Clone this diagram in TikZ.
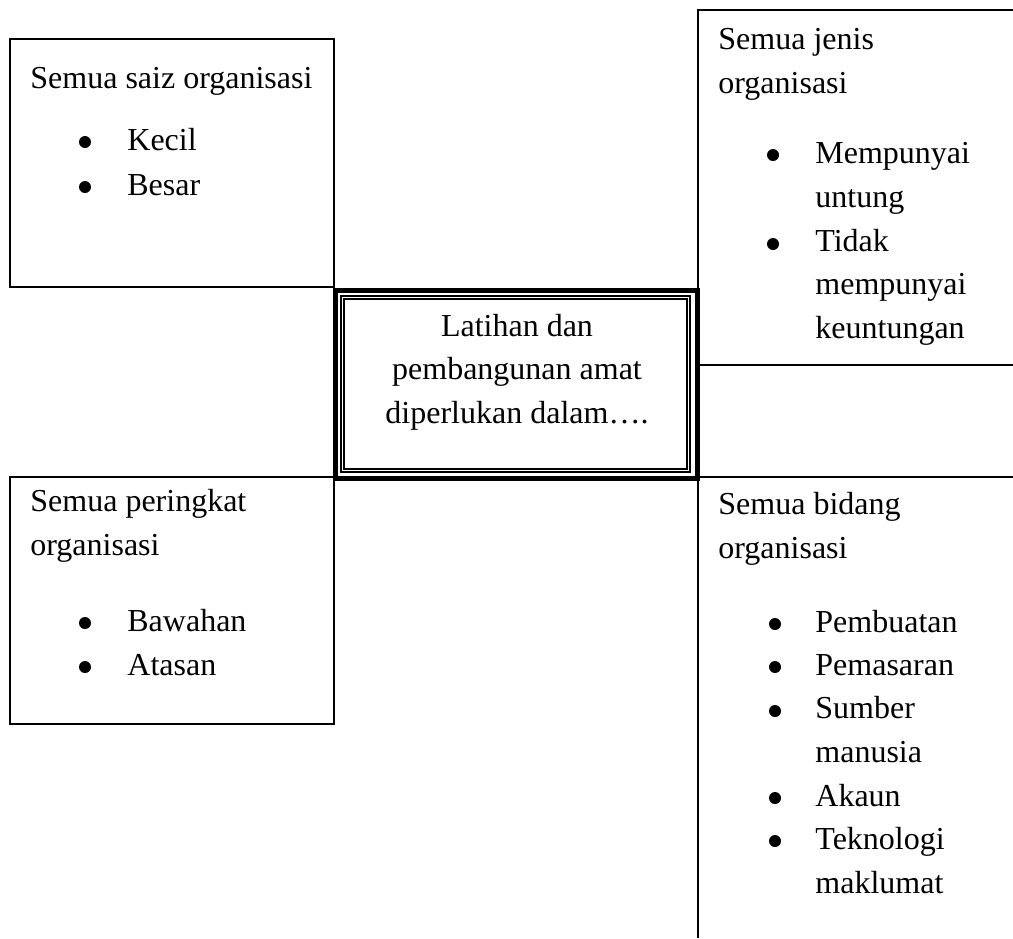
\documentclass[tikz,border=0pt]{standalone}
\usepackage{fontspec}
\setmainfont{Liberation Serif}

\begin{document}
\begin{tikzpicture}[x=0.5pt, y=-0.5pt,
    txt/.style={anchor=base west, inner sep=0pt, align=left,
      font=\fontsize{16}{21.75}\selectfont},
    dot/.style={circle, fill, inner sep=0pt, minimum size=6pt},
    boxline/.style={line width=1pt}]
  \useasboundingbox (0,0) rectangle (1013,938);

  % outer boxes
  \draw[boxline] (10,39) rectangle (334,287);
  \draw[boxline] (10,477) rectangle (334,724);
  \draw[boxline] (1013,10) -- (698,10) -- (698,365) -- (1013,365);
  \draw[boxline] (1013,477) -- (698,477) -- (698,938);

  % centre box (base anchor = last line)
  \draw[line width=2.75pt] (335.5,290.5) rectangle (697.5,478.5);
  \draw[line width=0.7pt] (341,296) rectangle (690,472);
  \draw[line width=0.7pt] (344,299) rectangle (687,469);
  \node[txt, anchor=base, align=center] (pusat) at (517,423)
    {Latihan dan\\pembangunan amat\\diperlukan dalam….};

  % saiz
  \node[txt] (saiz) at (30,88) {Semua saiz organisasi};
  \node[dot] (d1) at (85,142) {};
  \node[txt] (kecil) at (127,150) {Kecil};
  \node[dot] (d2) at (85,187) {};
  \node[txt] (besar) at (127,195) {Besar};

  % jenis
  \node[txt] (jenis) at (718,93) {Semua jenis\\organisasi};
  \node[dot] (d3) at (773,155) {};
  \node[txt] (untung) at (815,207) {Mempunyai\\untung};
  \node[dot] (d4) at (773,244) {};
  \node[txt] (tidak) at (815,338) {Tidak\\mempunyai\\keuntungan};

  % peringkat
  \node[txt] (peringkat) at (30,555) {Semua peringkat\\organisasi};
  \node[dot] (d5) at (85,623) {};
  \node[txt] (bawahan) at (127,631) {Bawahan};
  \node[dot] (d6) at (85,667) {};
  \node[txt] (atasan) at (127,675) {Atasan};

  % bidang
  \node[txt] (bidang) at (718,558) {Semua bidang\\organisasi};
  \node[dot] (d7) at (775,624) {};
  \node[txt] (pembuatan) at (815,632) {Pembuatan};
  \node[dot] (d8) at (775,667) {};
  \node[txt] (pemasaran) at (815,675) {Pemasaran};
  \node[dot] (d9) at (775,711) {};
  \node[txt] (sumber) at (815,762) {Sumber\\manusia};
  \node[dot] (d10) at (775,798) {};
  \node[txt] (akaun) at (815,806) {Akaun};
  \node[dot] (d11) at (775,841) {};
  \node[txt] (teknologi) at (815,893) {Teknologi\\maklumat};
\end{tikzpicture}
\end{document}
